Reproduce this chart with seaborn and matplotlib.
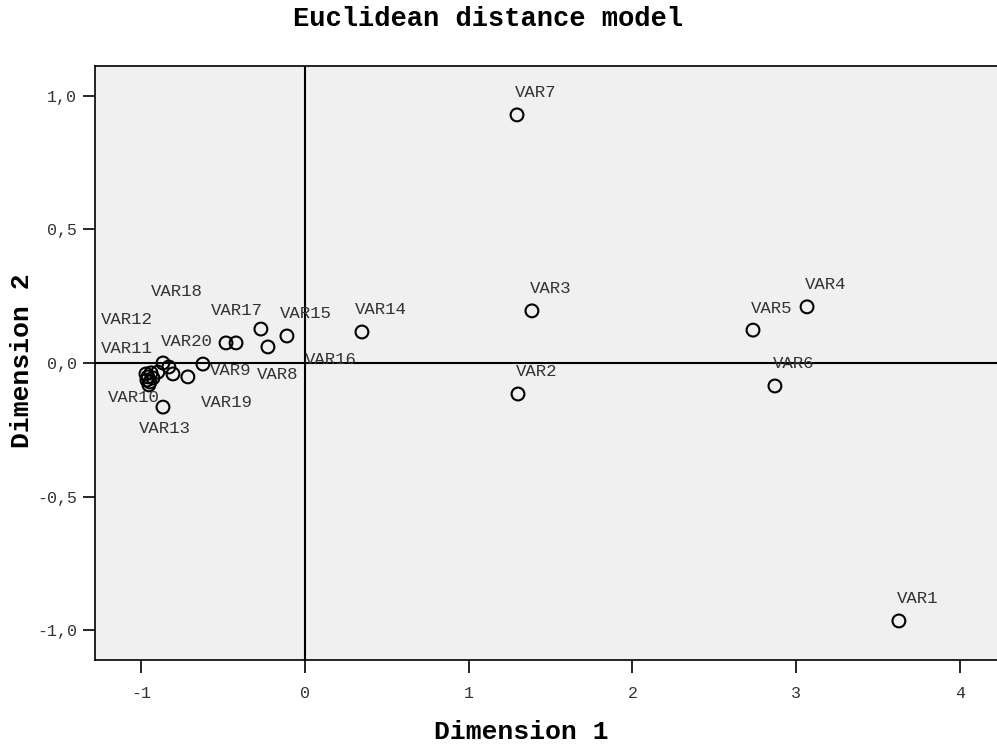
import numpy as np
import pandas as pd
import seaborn as sns
import matplotlib.pyplot as plt

# -------------------------------
# Data
# -------------------------------
labels = ['VAR1', 'VAR2', 'VAR3', 'VAR4', 'VAR5', 'VAR6', 'VAR7',
          'VAR8', 'VAR9', 'VAR10', 'VAR11', 'VAR12', 'VAR13', 'VAR14',
          'VAR15', 'VAR16', 'VAR17', 'VAR18', 'VAR19', 'VAR20',
          '', '', '', '', '', '', '']
dim1 = [3.627, 1.301, 1.386, 3.066, 2.736, 2.870, 1.295,
        -0.226, -0.623, -0.947, -0.898, -0.867, -0.867, 0.348,
        -0.110, -0.421, -0.269, -0.831, -0.715, -0.482,
        -0.806, -0.971, -0.959, -0.940, -0.965, -0.928, -0.953]
dim2 = [-0.965, -0.116, 0.195, 0.210, 0.123, -0.086, 0.928,
        0.060, -0.004, -0.071, -0.034, 0.000, -0.165, 0.116,
        0.101, 0.075, 0.127, -0.015, -0.052, 0.075,
        -0.041, -0.041, -0.052, -0.037, -0.064, -0.056, -0.082]

x_ticks = [-1, 0, 1, 2, 3, 4]
y_ticks = [-1.0, -0.5, 0.0, 0.5, 1.0]
y_tick_labels = ['-1,0', '-0,5', '0,0', '0,5', '1,0']

df = pd.DataFrame({'label': labels, 'dim1': dim1, 'dim2': dim2})

# label placement (pixel offsets of the text centre from the point)
default_offset = (19, -22)
label_offsets = {
    'VAR8': (10, 28), 'VAR9': (28, 6), 'VAR10': (-16, 16),
    'VAR11': (-31, -24), 'VAR12': (-36, -43), 'VAR13': (2, 21),
    'VAR16': (95, 17), 'VAR17': (-24, -19), 'VAR18': (8, -75),
    'VAR19': (39, 26), 'VAR20': (-39, -1),
}

# -------------------------------
# Plot
# -------------------------------
sns.set_style('white')
plt.rcParams['font.family'] = ['Liberation Mono', 'DejaVu Sans Mono']

fig = plt.figure(figsize=(9.97, 7.46), dpi=100)
ax = fig.add_axes([0.0953, 0.1153, 0.9047, 0.7966])
ax.set_facecolor('#f0f0f0')

ax.axhline(0, color='black', lw=1.5, zorder=1)
ax.axvline(0, color='black', lw=1.5, zorder=1)

sns.scatterplot(data=df, x='dim1', y='dim2', ax=ax, marker='o', s=85,
                facecolor='none', edgecolor='black', linewidth=1.5, zorder=3)

for _, r in df.iterrows():
    if not r['label']:
        continue
    dx, dy = label_offsets.get(r['label'], default_offset)
    ax.annotate(r['label'], (r['dim1'], r['dim2']), xytext=(dx * 0.72, -dy * 0.72),
                textcoords='offset points', ha='center', va='center',
                fontsize=12.5, color='#333333')

ax.set_xlim(-1.282, 4.226)
ax.set_ylim(-1.111, 1.112)
ax.set_xticks(x_ticks)
ax.set_xticklabels([str(v) for v in x_ticks])
ax.set_yticks(y_ticks)
ax.set_yticklabels(y_tick_labels)
ax.tick_params(axis='both', direction='out', length=9, width=1.2, color='black',
               labelsize=12, labelcolor='#333333', left=True, bottom=True)
ax.tick_params(axis='x', pad=10)
ax.tick_params(axis='y', pad=4)

for side in ['top', 'left', 'bottom']:
    ax.spines[side].set_color('black')
    ax.spines[side].set_linewidth(1.2)
ax.spines['right'].set_visible(False)

ax.set_xlabel('Dimension 1', fontsize=19, fontweight='bold', color='black', va='center')
ax.xaxis.set_label_coords(0.4723, -0.121)
ax.set_ylabel('Dimension 2', fontsize=19, fontweight='bold', color='black', va='center')
ax.yaxis.set_label_coords(-0.081, 0.504)
fig.text(0.4895, 0.9745, 'Euclidean distance model', ha='center', va='center',
         fontsize=19.5, fontweight='bold', color='black')

plt.savefig('out.png', dpi=100)
